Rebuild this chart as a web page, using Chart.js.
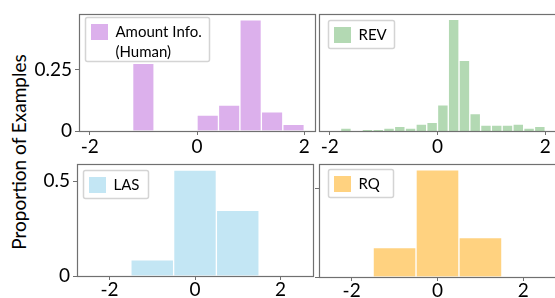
<!DOCTYPE html>
<html>
<head>
<meta charset="utf-8">
<script src="https://cdn.jsdelivr.net/npm/chart.js@4.4.0/dist/chart.umd.min.js"></script>
<style>
  html, body { margin: 0; padding: 0; width: 555px; height: 298px; overflow: hidden; background: #fff; }
  canvas { position: absolute; }
  #ylabel {
    position: absolute; left: 18px; top: 152px;
    transform: translate(-50%, -50%) rotate(-90deg);
    font: 19px Lato; white-space: nowrap; color: #000;
  }
</style>
</head>
<body>
<div id="ylabel">Proportion of Examples</div>
<canvas id="amount" width="320" height="160" style="left:0px;top:0px"></canvas>
<canvas id="rev" width="265" height="160" style="left:300px;top:0px"></canvas>
<canvas id="las" width="320" height="148" style="left:0px;top:150px"></canvas>
<canvas id="rq" width="265" height="148" style="left:300px;top:150px"></canvas>
<script>
// histogram bin centres and proportions
const amountCenters = [-1.0, -0.6, -0.2, 0.2, 0.6, 1.0, 1.4, 1.8];
const amountValues  = [0.275, 0, 0, 0.065, 0.105, 0.452, 0.078, 0.027];

const revCenters = [-1.9, -1.7, -1.5, -1.3, -1.1, -0.9, -0.7, -0.5, -0.3, -0.1,
                    0.1, 0.3, 0.5, 0.7, 0.9, 1.1, 1.3, 1.5, 1.7, 1.9];
const revValues  = [0, 0.012, 0, 0.005, 0.005, 0.012, 0.019, 0.012, 0.028, 0.035,
                    0.106, 0.452, 0.286, 0.071, 0.024, 0.024, 0.024, 0.028, 0.012, 0.019];

const lasCenters = [-1, 0, 1];
const lasValues  = [0.085, 0.559, 0.347];

const rqCenters = [-1, 0, 1];
const rqValues  = [0.166, 0.602, 0.221];

const xTickValues = [-2, 0, 2];
const topYTicks = [0, 0.25];
const bottomYTicks = [0, 0.5];

const labels = {
  amount: ['Amount Info.', '(Human)'],
  rev: ['REV'],
  las: ['LAS'],
  rq: ['RQ']
};

const spine = '#707070';
Chart.defaults.font.family = 'Lato';

const framePlugin = {
  id: 'frame',
  afterDatasetsDraw(chart) {
    const { ctx, chartArea: a } = chart;
    ctx.save();
    ctx.strokeStyle = spine;
    ctx.lineWidth = 1.2;
    ctx.strokeRect(Math.round(a.left) + 0.5, Math.round(a.top) + 0.5,
      Math.round(a.right - a.left), Math.round(a.bottom - a.top));
    ctx.restore();
  }
};

const legendPlugin = {
  id: 'boxLegend',
  afterDraw(chart, args, o) {
    const { ctx, chartArea: a } = chart;
    const x = Math.round(a.left + o.dx) + 0.5, y = Math.round(a.top + o.dy) + 0.5;
    ctx.save();
    ctx.fillStyle = 'rgba(255,255,255,0.8)';
    ctx.strokeStyle = '#d4d4d4';
    ctx.lineWidth = 1.5;
    ctx.beginPath();
    ctx.roundRect(x, y, o.w, o.h, 2);
    ctx.fill();
    ctx.stroke();
    ctx.fillStyle = o.color;
    ctx.fillRect(x + 5.5, y + 6.5, 17, 16);
    ctx.fillStyle = '#000';
    ctx.font = '15px Lato';
    ctx.textBaseline = 'middle';
    o.lines.forEach((t, i) => ctx.fillText(t, x + 30, y + 14.5 + i * 20));
    ctx.restore();
  }
};

function makePanel(id, centers, values, color, p) {
  new Chart(document.getElementById(id), {
    type: 'bar',
    data: {
      datasets: [{
        data: centers.map((c, i) => ({ x: c, y: values[i] })),
        backgroundColor: color,
        borderColor: '#ffffff',
        borderWidth: 1,
        barPercentage: 1,
        categoryPercentage: 1
      }]
    },
    options: {
      responsive: false,
      animation: false,
      layout: { padding: { top: p.top, right: p.right, left: 0, bottom: 0 } },
      scales: {
        x: {
          type: 'linear',
          offset: false,
          min: -p.xlim, max: p.xlim,
          afterBuildTicks: s => { s.ticks = xTickValues.map(v => ({ value: v })); },
          afterFit: s => { s.height = p.xh; },
          grid: { drawOnChartArea: false, offset: false, tickLength: 4, color: spine },
          border: { display: false },
          ticks: { color: '#000', font: { size: 19 }, padding: p.xpad, maxRotation: 0, autoSkip: false }
        },
        y: {
          min: 0, max: p.ymax,
          afterBuildTicks: s => { s.ticks = (p.yticks || []).map(v => ({ value: v })); },
          afterFit: s => { s.width = p.yw; },
          grid: { drawOnChartArea: false, tickLength: 4, color: spine, drawTicks: !!p.yticks },
          border: { display: false },
          ticks: {
            display: !!p.yticks,
            color: '#000', font: { size: 19 }, padding: 3,
            callback: v => p.showYLabels ? String(v) : ''
          }
        }
      },
      plugins: {
        legend: { display: false },
        tooltip: { enabled: false },
        boxLegend: { dx: p.lx, dy: p.ly, w: p.lw, h: p.lh, color: color, lines: p.lines }
      }
    },
    plugins: [framePlugin, legendPlugin]
  });
}

makePanel('amount', amountCenters, amountValues, '#dcb0ec', {
  top: 14, right: 5, xh: 29, yw: 79, xlim: 2.2, ymax: 0.474, xpad: 0,
  yticks: topYTicks, showYLabels: true,
  lx: 6, ly: 3, lw: 124, lh: 44, lines: labels.amount
});
makePanel('rev', revCenters, revValues, '#b3d9b3', {
  top: 14, right: 9, xh: 29, yw: 19, xlim: 2.2, ymax: 0.474, xpad: 0,
  lx: 9, ly: 6, lw: 66, lh: 28, lines: labels.rev
});
makePanel('las', lasCenters, lasValues, '#c3e6f4', {
  top: 8, right: 7, xh: 22, yw: 77, xlim: 2.76, ymax: 0.589, xpad: -2,
  yticks: bottomYTicks, showYLabels: true,
  lx: 6, ly: 6, lw: 65, lh: 28, lines: labels.las
});
makePanel('rq', rqCenters, rqValues, '#ffd280', {
  top: 9, right: 9, xh: 21, yw: 19, xlim: 2.76, ymax: 0.633, xpad: -2,
  yticks: bottomYTicks, showYLabels: false,
  lx: 9, ly: 5, lw: 65, lh: 28, lines: labels.rq
});
</script>
</body>
</html>
